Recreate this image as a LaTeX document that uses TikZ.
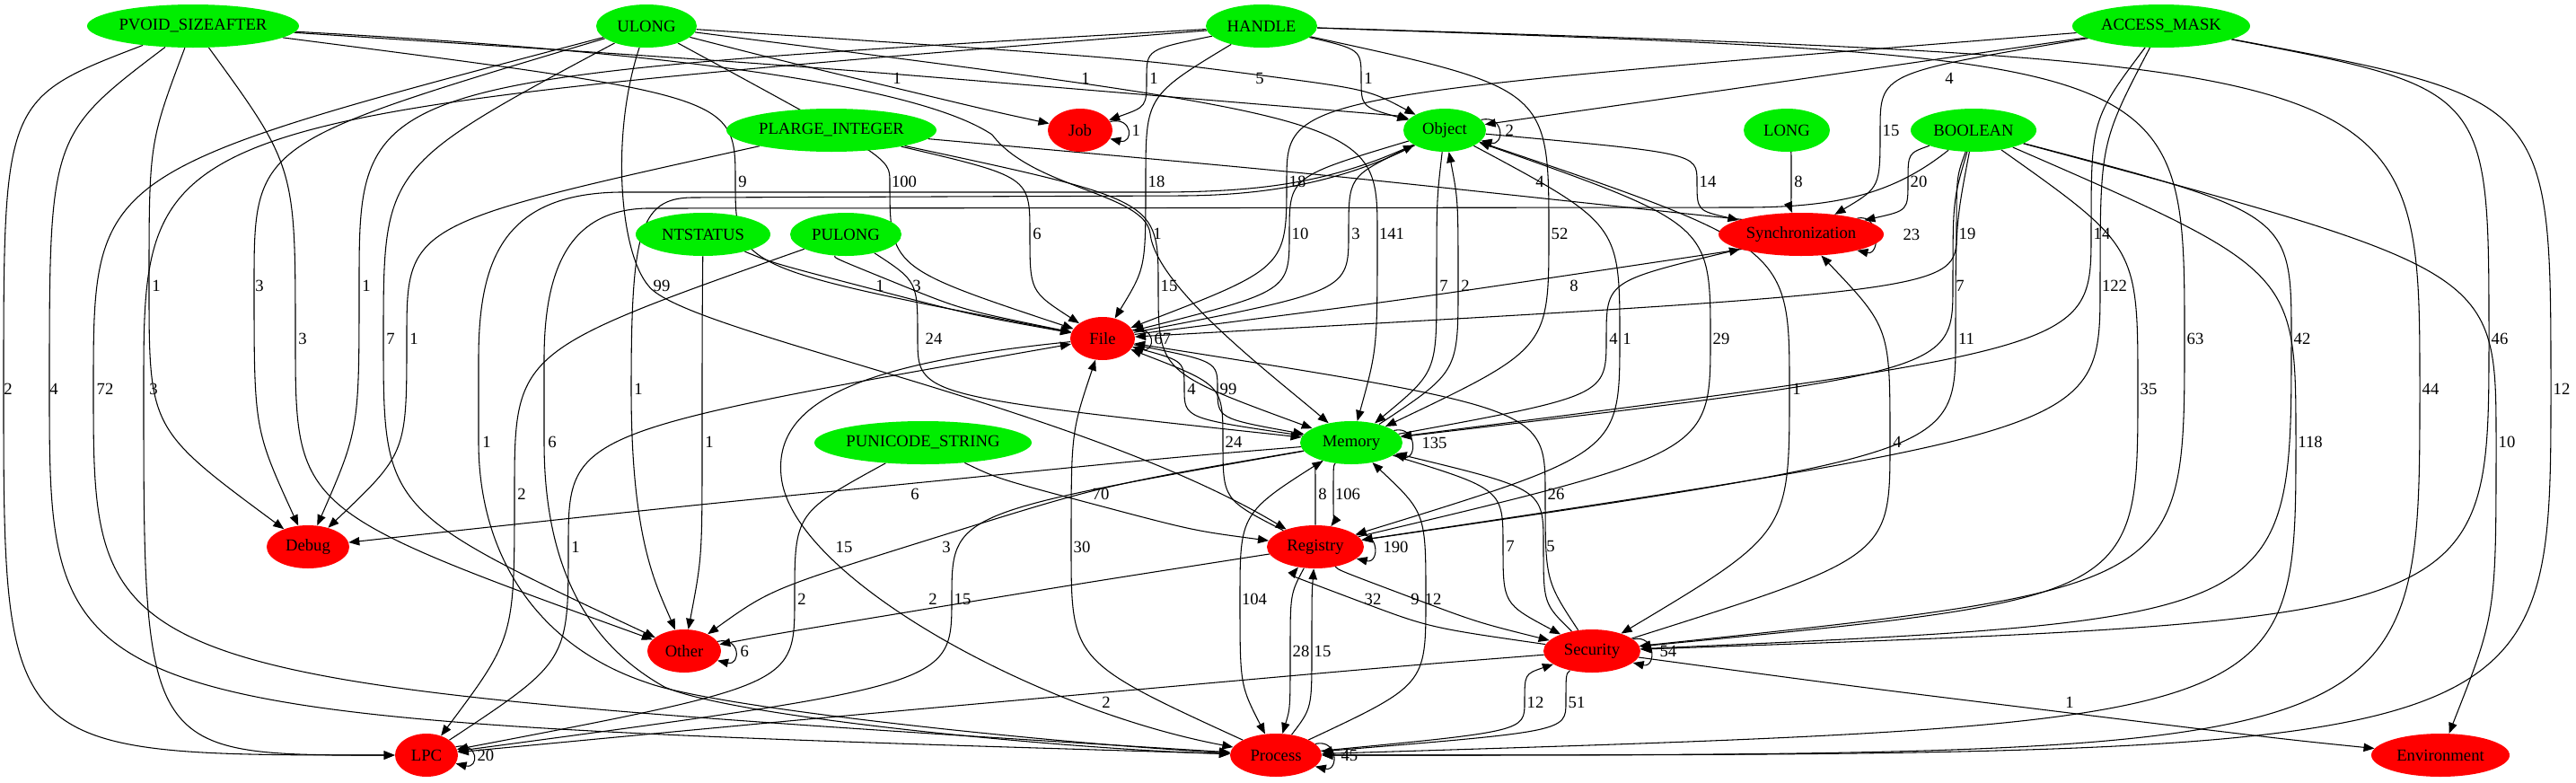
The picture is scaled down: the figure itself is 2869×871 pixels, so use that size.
\documentclass[tikz,border=0pt]{standalone}
\usepackage{fontspec}
\setmainfont{Liberation Serif}
\usetikzlibrary{shapes.geometric,arrows.meta,calc}
\definecolor{gfill}{RGB}{0,238,0}
\definecolor{rfill}{RGB}{255,0,0}
\pgfdeclarelayer{bglayer}
\pgfdeclarelayer{edgelayer}
\pgfsetlayers{bglayer,edgelayer,main}
\tikzset{
  gn/.style={ellipse, fill=gfill, draw=none, minimum height=36pt, inner sep=0pt, font=\fontsize{14}{16}\selectfont},
  rn/.style={ellipse, fill=rfill, draw=none, minimum height=36pt, inner sep=0pt, font=\fontsize{14}{16}\selectfont},
  lbl/.style={inner sep=0pt, font=\fontsize{14}{16}\selectfont},
  ed/.style={draw=black, line width=0.8pt, -{Triangle[length=9pt,width=7pt]}},
}
\def\splitf#1/#2\relax{\def\fa{#1}\def\fb{#2}}
\newcommand\ev[8][0.55/0.55]{%
  \splitf#1\relax
  \coordinate (w#2) at (#5,#6);
  \node[lbl] (l#2) at (#7,#6) {#8};
  \begin{pgfonlayer}{edgelayer}
    \draw[ed] (#3) .. controls ($(w#2)!\fa!(w#2|-#3)$) .. (w#2) .. controls ($(w#2)!\fb!(w#2|-#4)$) .. (#4);
  \end{pgfonlayer}}
\newcommand\eh[9][0.25]{%
  \coordinate (w#2) at (#5,#6);
  \node[lbl] (l#2) at (#7,#8) {#9};
  \begin{pgfonlayer}{edgelayer}
    \draw[ed] (#3) .. controls ($(w#2)+#1*(#3)-#1*(#4)$) .. (w#2) .. controls ($(w#2)-#1*(#3)+#1*(#4)$) .. (#4);
  \end{pgfonlayer}}
\newcommand\sloop[3]{%
  \begin{pgfonlayer}{edgelayer}
    \draw[ed] (#1.16) .. controls +(26,-6) and +(26,6) .. (#1.-16);
  \end{pgfonlayer}
  \node[lbl, anchor=west] (s#2) at ($(#1.east)+(21,0)$) {#3};}
\begin{document}
\begin{tikzpicture}[x=0.75pt,y=-0.75pt]
\useasboundingbox (0,0) rectangle (2869,871);
\begin{pgfonlayer}{bglayer}
\fill[white] (0,0) rectangle (2869,871);
\end{pgfonlayer}
% nodes
\node[gn, minimum width=177pt] (PV) at (215,29) {PVOID\_SIZEAFTER};
\node[gn, minimum width=84pt] (UL) at (720,29) {ULONG};
\node[gn, minimum width=93pt] (HA) at (1405,29) {HANDLE};
\node[gn, minimum width=148.5pt] (AM) at (2407,29) {ACCESS\_MASK};
\node[gn, minimum width=175.5pt] (PL) at (926,145) {PLARGE\_INTEGER};
\node[rn, minimum width=54pt] (Job) at (1203,145) {Job};
\node[gn, minimum width=69pt] (Obj) at (1609,145) {Object};
\node[gn, minimum width=72pt] (LONG) at (1990,145) {LONG};
\node[gn, minimum width=105pt] (BO) at (2198,145) {BOOLEAN};
\node[gn, minimum width=112.5pt] (NT) at (783,261) {NTSTATUS};
\node[gn, minimum width=93pt] (PU) at (942,261) {PULONG};
\node[rn, minimum width=138pt] (Sync) at (2006,261) {Synchronization};
\node[rn, minimum width=54pt] (File) at (1228,377) {File};
\node[gn, minimum width=85.5pt] (Mem) at (1505,493) {Memory};
\node[gn, minimum width=181.5pt] (PUS) at (1028,493) {PUNICODE\_STRING};
\node[rn, minimum width=69pt] (Debug) at (343,609) {Debug};
\node[rn, minimum width=81pt] (Reg) at (1465,609) {Registry};
\node[rn, minimum width=61.5pt] (Other) at (762,725) {Other};
\node[rn, minimum width=81pt] (Sec) at (1773,725) {Security};
\node[rn, minimum width=52.5pt] (LPC) at (475,841) {LPC};
\node[rn, minimum width=76.5pt] (Proc) at (1421,841) {Process};
\node[rn, minimum width=115.5pt] (Env) at (2718,841) {Environment};
% self loops
\sloop{Job}{1}{1}
\sloop{Obj}{2}{2}
\sloop{Sync}{3}{23}
\sloop{File}{4}{67}
\sloop{Mem}{5}{135}
\sloop{Reg}{6}{190}
\sloop{Other}{7}{6}
\sloop{Sec}{8}{54}
\sloop{LPC}{9}{20}
\sloop{Proc}{10}{45}
% PVOID_SIZEAFTER
\ev[0.8/1]{1}{PV}{LPC}{4}{433}{9}{2}
\ev[0.7/0.9]{2}{PV}{Proc}{55}{433}{60}{4}
\ev{3}{PV}{Debug}{166}{318}{174}{1}
\ev{4}{PV}{Other}{329}{377}{337}{3}
\ev{5}{PV}{File}{819}{202}{827}{9}
\eh{6}{PV}{Obj}{1209}{100}{1209}{87}{1}
\coordinate (w7) at (1281,260);
\coordinate (k7) at (1105,150);
\node[lbl] (l7) at (1289,260) {1};
\begin{pgfonlayer}{edgelayer}
\draw[ed] (PV) .. controls (600,50) and (1000,80) .. (k7) .. controls (1150,210) and (1275,215) .. (w7) .. controls (1287,320) and (1420,420) .. (Mem);
\end{pgfonlayer}
% ULONG
\ev[0.6/0.8]{8}{UL}{Proc}{104}{433}{117}{72}
\ev{9}{UL}{Debug}{283}{318}{289}{3}
\ev{10}{UL}{Other}{427}{377}{435}{7}
\eh{11}{UL}{Job}{985}{95}{999}{87}{1}
\eh[0.15]{12}{UL}{Obj}{1390}{82}{1403}{87}{5}
\ev[0.15/0.55]{13}{UL}{File}{991}{202}{1007}{100}
\ev{14}{UL}{Mem}{1534}{260}{1550}{141}
\coordinate (w15) at (722,318);
\node[lbl] (l15) at (737,318) {99};
\begin{pgfonlayer}{edgelayer}
\draw[ed] (UL) .. controls (680,150) and (690,280) .. (w15) .. controls (760,370) and (1200,450) .. (Reg);
\end{pgfonlayer}
% HANDLE
\ev{17}{HA}{Job}{1277}{87}{1285}{1}
\ev{18}{HA}{Obj}{1516}{87}{1524}{1}
\ev{19}{HA}{File}{1276}{202}{1288}{18}
\ev[0.7/0.55]{20}{HA}{Mem}{1725}{260}{1737}{52}
\ev[0.75/1]{21}{HA}{LPC}{160}{433}{171}{3}
\ev[0.9/1]{22}{HA}{Proc}{2695}{433}{2707}{44}
\ev[0.9/0.8]{23}{HA}{Sec}{2433}{377}{2445}{63}
\ev[0.8/0.55]{24}{HA}{Debug}{400}{318}{408}{1}
% ACCESS_MASK
\eh{25}{AM}{Obj}{2171}{64}{2171}{87}{4}
\ev{26}{AM}{Sync}{2094}{145}{2106}{15}
\ev{27}{AM}{File}{1433}{202}{1445}{18}
\ev{28}{AM}{Mem}{2329}{260}{2341}{14}
\ev{29}{AM}{Reg}{2339}{318}{2355}{122}
\ev[0.8/0.9]{30}{AM}{Sec}{2772}{377}{2784}{46}
\ev[0.8/1]{31}{AM}{Proc}{2841}{433}{2853}{12}
% PLARGE_INTEGER
\ev{32}{PL}{Debug}{453}{377}{461}{1}
\ev{33}{PL}{File}{1147}{260}{1155}{6}
\ev{34}{PL}{Mem}{1290}{318}{1302}{15}
\eh{35}{PL}{Sync}{1710}{220}{1715}{202}{4}
% Object / LONG / BOOLEAN
\ev{36}{Obj}{File}{1436}{260}{1448}{10}
\ev{37}{File}{Obj}{1502}{260}{1510}{3}
\ev{38}{Obj}{Mem}{1600}{318}{1608}{7}
\ev{39}{Mem}{Obj}{1624}{318}{1632}{2}
\ev{40}{Obj}{Sync}{1890}{202}{1902}{14}
\ev{41}{LONG}{Sync}{1995}{202}{2003}{8}
\ev{42}{BO}{Sync}{2125}{202}{2137}{20}
\ev{43}{BO}{File}{2179}{260}{2191}{19}
\ev{44}{BO}{Mem}{2175}{318}{2183}{7}
\ev{45}{BO}{Reg}{2178}{377}{2190}{11}
\ev[0.55/0.8]{46}{BO}{Sec}{2381}{433}{2393}{35}
\ev[0.6/0.9]{47}{BO}{Sec}{2552}{377}{2564}{42}
\ev[0.55/0.9]{48}{BO}{Proc}{2557}{492}{2573}{118}
\ev{49}{BO}{Env}{2780}{492}{2792}{10}
% NTSTATUS / PULONG
\eh{50}{NT}{File}{972}{322}{980}{318}{1}
\ev{51}{NT}{Other}{782}{492}{790}{1}
\eh{52}{PU}{File}{1000}{316}{1021}{318}{3}
\ev{53}{PU}{Mem}{1022}{377}{1040}{24}
\ev{54}{PU}{LPC}{573}{550}{581}{2}
% between categories
\eh{55}{File}{Sync}{1750}{306}{1753}{318}{8}
\ev{56}{Mem}{Sync}{1789}{377}{1797}{4}
\ev{57}{Obj}{Reg}{1804}{377}{1812}{1}
\ev{58}{Reg}{Obj}{1905}{377}{1917}{29}
\ev{59}{Obj}{Sec}{1993}{433}{2001}{1}
\ev{60}{Sec}{Sync}{2105}{492}{2113}{4}
\ev{61}{Mem}{File}{1319}{433}{1327}{4}
\ev{62}{File}{Mem}{1356}{433}{1368}{99}
\ev{63}{Reg}{File}{1362}{492}{1374}{24}
\ev{64}{Sec}{File}{1721}{550}{1733}{26}
\eh{65}{Mem}{Debug}{1019}{538}{1019}{550}{6}
\eh{66}{PUS}{Reg}{1220}{562}{1226}{550}{70}
\ev{67}{Reg}{Mem}{1465}{550}{1473}{8}
\ev{68}{Mem}{Reg}{1485}{550}{1501}{106}
\ev{69}{LPC}{File}{633}{609}{641}{1}
\coordinate (w70) at (870,530);
\node[lbl] (l70) at (940,609) {15};
\begin{pgfonlayer}{edgelayer}
\draw[ed] (File) .. controls (950,405) and (862,450) .. (w70) .. controls (880,640) and (1150,790) .. (Proc);
\end{pgfonlayer}
\eh{71}{Mem}{Other}{1044}{598}{1054}{609}{3}
\ev{72}{Proc}{File}{1193}{609}{1205}{30}
\ev{73}{Mem}{Sec}{1674}{608}{1682}{7}
\ev{74}{Sec}{Mem}{1719}{608}{1727}{5}
\ev{75}{PUS}{LPC}{885}{667}{893}{2}
\eh{76}{Reg}{Other}{1039}{677}{1039}{667}{2}
\ev{77}{Mem}{LPC}{1060}{667}{1072}{15}
\ev{78}{Mem}{Proc}{1381}{667}{1397}{104}
\eh{79}{Sec}{Reg}{1515}{670}{1529}{667}{32}
\eh{80}{Reg}{Sec}{1568}{664}{1576}{667}{9}
\ev{81}{Proc}{Mem}{1588}{667}{1596}{12}
\ev{82}{Reg}{Proc}{1437}{725}{1449}{28}
\ev{83}{Proc}{Reg}{1461}{725}{1473}{15}
\eh{84}{Sec}{LPC}{1232}{771}{1232}{782}{2}
\ev{85}{Proc}{Sec}{1698}{782}{1710}{12}
\ev{86}{Sec}{Proc}{1744}{782}{1756}{51}
\eh{87}{Sec}{Env}{2305}{794}{2305}{782}{1}
% long horizontal routes
\coordinate (w88) at (703,433);
\node[lbl] (l88) at (711,433) {1};
\coordinate (w89) at (533,492);
\node[lbl] (l89) at (542,492) {1};
\coordinate (w90) at (606,492);
\node[lbl] (l90) at (615,492) {6};
\begin{pgfonlayer}{edgelayer}
\draw[ed] (Obj) .. controls (1500,200) and (1420,217) .. (1320,218) -- (770,220) .. controls (712,221) and (703,260) .. (w88) .. controls (703,600) and (730,650) .. (Other);
\draw[ed] (Obj) .. controls (1480,205) and (1400,213) .. (1300,214) -- (690,214) .. controls (560,216) and (533,290) .. (533,400) -- (w89) .. controls (533,620) and (600,720) .. (720,760) .. controls (800,790) and (1200,830) .. (Proc);
\draw[ed] (BO) .. controls (2110,215) and (2050,230) .. (1950,231) -- (720,232) .. controls (640,234) and (606,290) .. (606,400) -- (w90) .. controls (606,640) and (660,720) .. (740,765) .. controls (820,800) and (1200,835) .. (Proc);
\end{pgfonlayer}
\end{tikzpicture}
\end{document}
